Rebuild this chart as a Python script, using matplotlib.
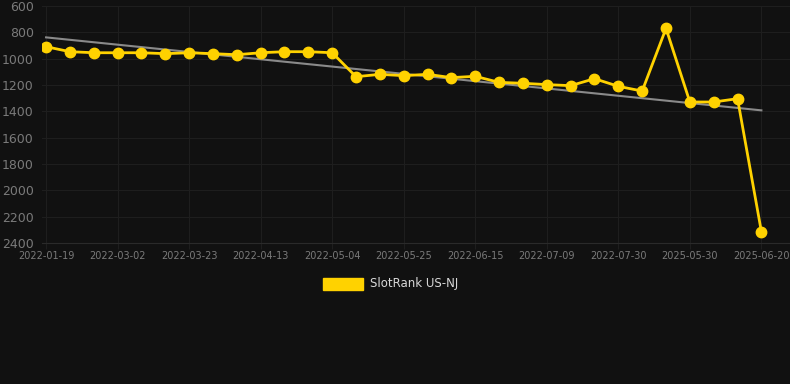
import numpy as np
import matplotlib.pyplot as plt

tick_labels = ['2022-01-19', '2022-03-02', '2022-03-23', '2022-04-13', '2022-05-04',
               '2022-05-25', '2022-06-15', '2022-07-09', '2022-07-30', '2025-05-30',
               '2025-06-20']
ranks = [909, 947, 955, 955, 955, 962, 955, 962, 970, 955, 947, 947, 955,
         1137, 1119, 1129, 1119, 1144, 1134, 1180, 1187, 1197, 1205, 1152, 1210, 1246,
         770, 1329, 1329, 1304, 2314]
series_name = 'SlotRank US-NJ'

bg = '#111111'
grid_c = '#1e1e1e'
text_c = '#7a7a7a'
gold = '#FFD200'

x = np.arange(len(ranks))
fig = plt.figure(figsize=(7.9, 3.84), dpi=100, facecolor=bg)
ax = fig.add_axes([42 / 790, 1 - 243 / 384, 748 / 790, 237 / 384])
ax.set_facecolor(bg)

# trend line (least squares)
k, b = np.polyfit(x, ranks, 1)
ax.plot(x, k * x + b, color='#8a8a8a', lw=1.5, zorder=2)

ax.plot(x, ranks, color=gold, lw=2.0, marker='o', ms=7.5, zorder=3)

ax.set_ylim(2400, 600)
ax.set_xlim(-0.17, 31.2)
ax.set_yticks(range(600, 2401, 200))
ax.set_xticks(x[::3])
ax.set_xticklabels(tick_labels)
ax.grid(True, color=grid_c, lw=0.8)
ax.set_axisbelow(True)
for s in ['top', 'right', 'left']:
    ax.spines[s].set_visible(False)
ax.spines['bottom'].set_color('#2a2a2a')
ax.tick_params(axis='y', length=0, pad=6, labelsize=9, labelcolor=text_c)
ax.tick_params(axis='x', length=4, color=grid_c, pad=2, labelsize=7, labelcolor=text_c)

# legend
fig.patches.append(plt.Rectangle((323 / 790, 1 - 290 / 384), 40 / 790, 12 / 384,
                                 transform=fig.transFigure, color=gold))
fig.text(370 / 790, 1 - 284 / 384, series_name, color='#d8d8d8', fontsize=8.5,
         va='center', ha='left')

fig.savefig('out.png', dpi=100, facecolor=bg)
